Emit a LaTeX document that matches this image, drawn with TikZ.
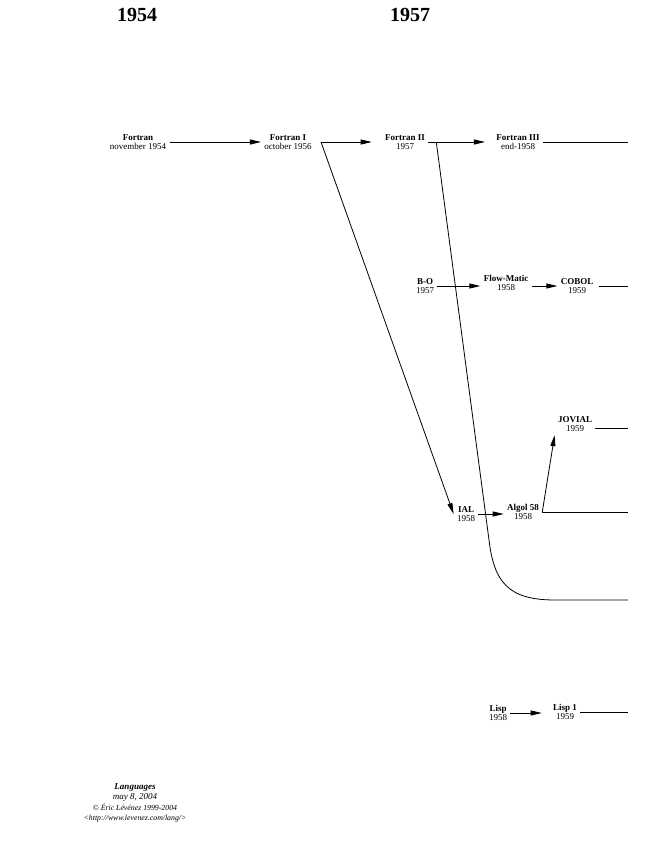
\documentclass[tikz,border=0pt]{standalone}
\usepackage{fontspec}
\setmainfont{Liberation Serif}
\usetikzlibrary{arrows.meta}

\begin{document}
\begin{tikzpicture}[x=1pt,y=-1pt,line width=0.8pt,
  lang/.style={align=center,inner sep=3pt,font=\fontsize{9}{9.5}\selectfont},
  year/.style={font=\fontsize{20}{22}\selectfont\bfseries},
  arr/.style={-{Triangle[length=11pt,width=5pt]}}]
\useasboundingbox (0,0) rectangle (655,848);
% years
\node[year] (y1954) at (137,15) {1954};
\node[year] (y1957) at (410,15) {1957};
\coordinate (edge) at (628,0);
% languages
\node[lang] (fortran) at (138,142) {\textbf{Fortran}\\november 1954};
\node[lang] (fortranI) at (288,142) {\textbf{Fortran I}\\october 1956};
\node[lang] (fortranII) at (405,142) {\textbf{Fortran II}\\1957};
\node[lang] (fortranIII) at (518,142) {\textbf{Fortran III}\\end-1958};
\node[lang] (bo) at (425,286) {\textbf{B-O}\\1957};
\node[lang] (flowmatic) at (506,283) {\textbf{Flow-Matic}\\1958};
\node[lang] (cobol) at (577,286) {\textbf{COBOL}\\1959};
\node[lang] (jovial) at (575,424) {\textbf{JOVIAL}\\1959};
\node[lang] (ial) at (466,514) {\textbf{IAL}\\1958};
\node[lang] (algol) at (523,512) {\textbf{Algol 58}\\1958};
\node[lang] (lisp) at (498,713) {\textbf{Lisp}\\1958};
\node[lang] (lispI) at (565,712) {\textbf{Lisp 1}\\1959};
% links
\draw[arr] (fortran.east) -- (fortran.east -| fortranI.west);
\draw[arr,shorten >=10pt] ([xshift=6pt]fortranI.east) -- (fortranI.east -| fortranII.west);
\draw[arr,shorten >=8pt] (fortranII.east) -- (fortranII.east -| fortranIII.west);
\draw (fortranIII.east) -- (fortranIII.east -| edge);
\draw[arr] ([xshift=6pt]fortranI.east) -- (ial.west);
\draw ([xshift=8pt]fortranII.east) -- (489,540) .. controls (494,582) and (508,600) .. (555,600) coordinate (fii) -- (fii -| edge);
\draw[arr] (bo.east) -- (bo.east -| flowmatic.west);
\draw[arr] ([yshift=-3pt]flowmatic.east) -- ([yshift=-3pt]flowmatic.east -| cobol.west);
\draw ([xshift=2pt]cobol.east) -- (cobol.east -| edge);
\draw ([yshift=-4pt]jovial.east) -- ([yshift=-4pt]jovial.east -| edge);
\draw[arr] (ial.east) -- (ial.east -| algol.west);
\draw[arr] (algol.east) -- (jovial.south west);
\draw (algol.east) -- (algol.east -| edge);
\draw[arr,shorten >=8pt] (lisp.east) -- (lisp.east -| lispI.west);
\draw (lispI.east) -- (lispI.east -| edge);
% footer
\node[align=center,font=\itshape] (footer) at (135,803) {{\fontsize{9}{8}\selectfont\bfseries Languages}\\[-1.5pt]
  {\fontsize{9}{8}\selectfont may 8, 2004}\\[-1.5pt]
  {\fontsize{7.8}{7.5}\selectfont © Éric Lévénez 1999-2004}\\[-1.5pt]
  {\fontsize{7.8}{7.5}\selectfont <http://www.levenez.com/lang/>}};
\end{tikzpicture}
\end{document}
